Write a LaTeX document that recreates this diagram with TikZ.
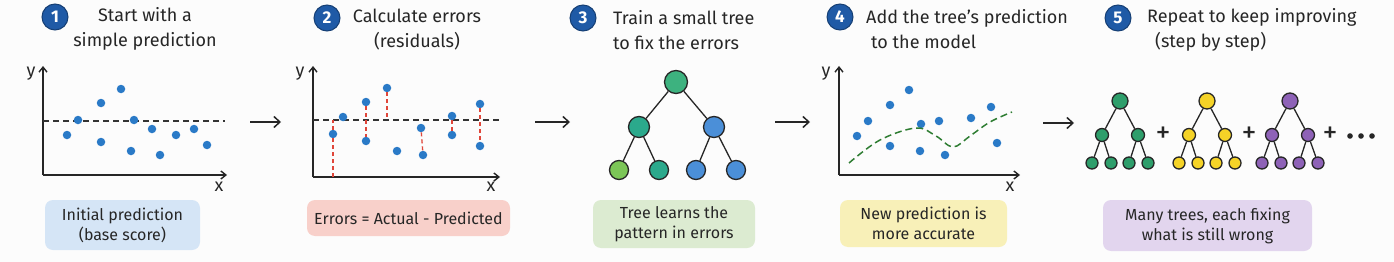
\documentclass[tikz,border=0pt]{standalone}
\usepackage{fontspec}
\setmainfont{Fira Sans}
\usetikzlibrary{arrows.meta,positioning,calc}

\definecolor{badgeblue}{HTML}{1F5AA6}
\definecolor{dotblue}{HTML}{2A7AC7}
\definecolor{residred}{HTML}{E0463A}
\definecolor{fitgreen}{HTML}{2E7D32}
\definecolor{rootgreen}{HTML}{3DB27F}
\definecolor{teal}{HTML}{2BA98C}
\definecolor{leafblue}{HTML}{4B8FD8}
\definecolor{lightgreen}{HTML}{7CC657}
\definecolor{forest}{HTML}{2E9E6B}
\definecolor{sun}{HTML}{F5D327}
\definecolor{plum}{HTML}{8E62B7}
\definecolor{boxblue}{HTML}{D5E5F6}
\definecolor{boxred}{HTML}{F8D0CA}
\definecolor{boxgreen}{HTML}{DCEBD1}
\definecolor{boxyellow}{HTML}{F8F0B8}
\definecolor{boxpurple}{HTML}{E2D5EE}

\begin{document}
\begin{tikzpicture}[x=1pt, y=-1pt,
    badge/.style={circle, draw=badgeblue!70!black, line width=1pt, fill=badgeblue, text=white, minimum size=26pt, inner sep=0pt, font=\fontsize{17}{17}\selectfont\bfseries},
    title/.style={font=\fontsize{18}{25}\selectfont, inner sep=0pt, text=black!85},
    axis/.style={-{Straight Barb[length=5pt,width=8pt]}, line width=1.4pt, black!85},
    axlab/.style={font=\fontsize{18}{18}\selectfont, inner sep=0pt, text=black!85},
    dot/.style={circle, fill=dotblue, minimum size=8.5pt, inner sep=0pt},
    predline/.style={dash pattern=on 6pt off 4pt, line width=1.3pt, black!80},
    resid/.style={residred, dash pattern=on 4pt off 3pt, line width=1.3pt},
    fitline/.style={fitgreen, dash pattern=on 7pt off 4pt, line width=1.5pt},
    flow/.style={-{Straight Barb[length=6pt,width=11pt]}, line width=1.5pt, black!85},
    note/.style={rounded corners=8pt, inner sep=0pt, font=\fontsize{16}{20}\selectfont, align=center, text=black!85},
    tnode/.style={circle, draw=black!85, line width=1.3pt, inner sep=0pt},
    branch/.style={line width=1.3pt, black!85},
    sign/.style={font=\fontsize{30}{30}\selectfont, inner sep=0pt, text=black!85}
]
    \useasboundingbox (0,0) rectangle (1394,262);
    \fill[black!1] (0,0) rectangle (1394,262);

    % step 1: base score
    \node[badge] (b1) at (55,17) {1};
    \node[title, align=center] (t1) at (145,29) {Start with a\\simple prediction};
    \coordinate (o1) at (43,175);
    \coordinate (y1) at (43,66);
    \coordinate (x1) at (227,175);
    \draw[axis] (o1) -- (y1);
    \draw[axis] (o1) -- (x1);
    \node[axlab] (ylab1) at (31,74) {y};
    \node[axlab] (xlab1) at (219,187) {x};
    \coordinate (p1a) at (43,121);
    \coordinate (p1b) at (225,121);
    \draw[predline] (p1a) -- (p1b);
    \foreach \px/\py [count=\i] in {67/135, 78/120, 101/103, 121/89, 101/142, 131/151, 134/120, 152/129, 160/155, 176/135, 194/129, 207/145}
        \node[dot] (d1-\i) at (\px,\py) {};
    \node[note, fill=boxblue, minimum width=155pt, minimum height=50pt] (n1) at (122.5,225) {Initial prediction\\(base score)};

    % step 2: residuals
    \node[badge] (b2) at (327,18) {2};
    \node[title, align=center] (t2) at (417,30) {Calculate errors\\(residuals)};
    \coordinate (o2) at (313,177);
    \coordinate (y2) at (313,66);
    \coordinate (x2) at (500,177);
    \draw[axis] (o2) -- (y2);
    \draw[axis] (o2) -- (x2);
    \node[axlab] (ylab2) at (300,74) {y};
    \node[axlab] (xlab2) at (491,187) {x};
    \coordinate (p2a) at (313,120);
    \coordinate (p2b) at (500,120);
    \draw[predline] (p2a) -- (p2b);
    \foreach \px/\py [count=\i] in {333/134, 343/117, 366/102, 366/141, 387/88, 397/151, 421/128, 423/155, 452/116, 452/135, 480/104, 480/146}
        \node[dot] (d2-\i) at (\px,\py) {};
    \draw[resid] (d2-1 |- o2) -- (d2-1);
    \draw[resid] (d2-1) -- (d2-1 |- p2a);
    \draw[resid] (d2-3) -- (d2-4);
    \draw[resid] (d2-5) -- (d2-5 |- p2a);
    \draw[resid] (d2-7) -- (d2-8);
    \draw[resid] (d2-9) -- (d2-10);
    \draw[resid] (d2-11) -- (d2-12);
    \node[note, fill=boxred, minimum width=203pt, minimum height=36pt] (n2) at (408.5,218) {Errors = Actual - Predicted};

    % step 3: small tree
    \node[badge] (b3) at (583,18) {3};
    \node[title, align=left, anchor=west] (t3) at (613,30) {Train a small tree\\to fix the errors};
    \node[tnode, fill=rootgreen, minimum size=23pt] (t3root) at (676,82) {};
    \node[tnode, fill=teal, minimum size=21pt] (t3l) at (639,127) {};
    \node[tnode, fill=leafblue, minimum size=21pt] (t3r) at (714,127) {};
    \node[tnode, fill=lightgreen, minimum size=19pt] (t3ll) at (619,170) {};
    \node[tnode, fill=teal, minimum size=19pt] (t3lr) at (659,170) {};
    \node[tnode, fill=leafblue, minimum size=19pt] (t3rl) at (696,170) {};
    \node[tnode, fill=leafblue, minimum size=19pt] (t3rr) at (736,170) {};
    \draw[branch] (t3root) -- (t3l);
    \draw[branch] (t3root) -- (t3r);
    \draw[branch] (t3l) -- (t3ll);
    \draw[branch] (t3l) -- (t3lr);
    \draw[branch] (t3r) -- (t3rl);
    \draw[branch] (t3r) -- (t3rr);
    \node[note, fill=boxgreen, minimum width=162pt, minimum height=48pt] (n3) at (674,224) {Tree learns the\\pattern in errors};

    % step 4: updated model
    \node[badge] (b4) at (840,17) {4};
    \node[title, align=left, anchor=west] (t4) at (866,29) {Add the tree's prediction\\\hspace*{5pt}to the model};
    \coordinate (o4) at (839,175);
    \coordinate (y4) at (839,66);
    \coordinate (x4) at (1020,175);
    \draw[axis] (o4) -- (y4);
    \draw[axis] (o4) -- (x4);
    \node[axlab] (ylab4) at (826,74) {y};
    \node[axlab] (xlab4) at (1010,187) {x};
    \foreach \px/\py [count=\i] in {857/136, 868/121, 890/105, 909/90, 890/146, 921/124, 920/151, 939/121, 945/155, 971/118, 991/107, 997/143}
        \node[dot] (d4-\i) at (\px,\py) {};
    \draw[fitline] plot[smooth, tension=0.6] coordinates {(849,163) (880,140) (916,128) (936,136) (953,147) (970,136) (990,122) (1012,112)};
    \node[note, fill=boxyellow, minimum width=167pt, minimum height=47pt] (n4) at (923.5,223.5) {New prediction is\\more accurate};

    % step 5: ensemble
    \node[badge] (b5) at (1118,18) {5};
    \node[title, align=left, anchor=west] (t5) at (1147,30) {Repeat to keep improving\\\hspace*{8pt}(step by step)};
    \foreach \tx/\tc/\tn in {1120/forest/fa, 1207/sun/fb, 1290/plum/fc} {
        \node[tnode, fill=\tc, minimum size=16pt] (\tn-r) at (\tx,101) {};
        \node[tnode, fill=\tc, minimum size=13pt] (\tn-a) at (\tx-18,135) {};
        \node[tnode, fill=\tc, minimum size=13pt] (\tn-b) at (\tx+18,135) {};
        \node[tnode, fill=\tc, minimum size=12pt] (\tn-1) at (\tx-28,163) {};
        \node[tnode, fill=\tc, minimum size=12pt] (\tn-2) at (\tx-9,163) {};
        \node[tnode, fill=\tc, minimum size=12pt] (\tn-3) at (\tx+9,163) {};
        \node[tnode, fill=\tc, minimum size=12pt] (\tn-4) at (\tx+28,163) {};
        \draw[branch] (\tn-r) -- (\tn-a);
        \draw[branch] (\tn-r) -- (\tn-b);
        \draw[branch] (\tn-a) -- (\tn-1);
        \draw[branch] (\tn-a) -- (\tn-2);
        \draw[branch] (\tn-b) -- (\tn-3);
        \draw[branch] (\tn-b) -- (\tn-4);
    }
    \node[sign] (plus1) at (1163,135) {+};
    \node[sign] (plus2) at (1249,135) {+};
    \node[sign] (plus3) at (1330,135) {+};
    \foreach \k in {0,1,2}
        \fill[black!85] (1350+\k*11,136) circle (2.8pt);
    \node[note, fill=boxpurple, minimum width=209pt, minimum height=51pt] (n5) at (1207.5,225.5) {Many trees, each fixing\\what is still wrong};

    % flow between steps
    \coordinate (f1a) at (250,122);
    \coordinate (f1b) at (281,122);
    \coordinate (f2a) at (535,122);
    \coordinate (f2b) at (570,122);
    \coordinate (f3a) at (775,122);
    \coordinate (f3b) at (810,122);
    \coordinate (f4a) at (1043,123);
    \coordinate (f4b) at (1074,123);
    \draw[flow] (f1a) -- (f1b);
    \draw[flow] (f2a) -- (f2b);
    \draw[flow] (f3a) -- (f3b);
    \draw[flow] (f4a) -- (f4b);
\end{tikzpicture}
\end{document}
